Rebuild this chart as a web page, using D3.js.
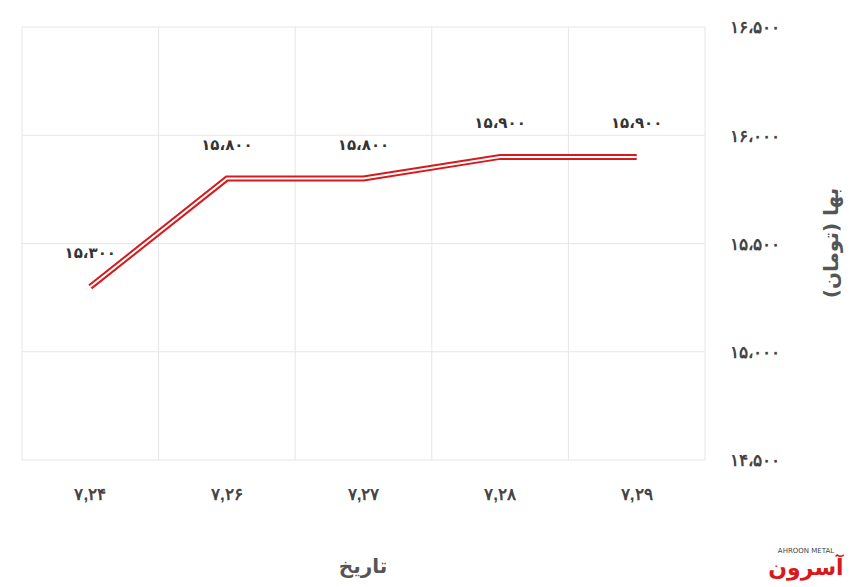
<!DOCTYPE html>
<html>
<head>
<meta charset="utf-8">
<script src="https://cdn.jsdelivr.net/npm/d3@7"></script>
<style>
  body { margin: 0; background: #fff; font-family: "DejaVu Sans", "Noto Sans", sans-serif; }
  .grid line { stroke: #e6e6e6; }
  .axis text { fill: #444; font-size: 17px; font-weight: bold; }
  .axis path, .axis line { display: none; }
</style>
</head>
<body>
<svg id="chart" width="860" height="587"></svg>
<script>
var categories = ["۷,۲۴", "۷,۲۶", "۷,۲۷", "۷,۲۸", "۷,۲۹"];
var prices = [15300, 15800, 15800, 15900, 15900];
var priceLabels = ["۱۵،۳۰۰", "۱۵،۸۰۰", "۱۵،۸۰۰", "۱۵،۹۰۰", "۱۵،۹۰۰"];
var yTicks = [14500, 15000, 15500, 16000, 16500];
var yTickLabels = ["۱۴،۵۰۰", "۱۵،۰۰۰", "۱۵،۵۰۰", "۱۶،۰۰۰", "۱۶،۵۰۰"];

var plotLeft = 22, plotRight = 705, plotTop = 27, plotBottom = 460;
var svg = d3.select("#chart");

var x = d3.scaleBand().domain(categories).range([plotLeft, plotRight]);
var y = d3.scaleLinear().domain([14500, 16500]).range([plotBottom, plotTop]);

// grid
var grid = svg.append("g").attr("class", "grid");
grid.selectAll(".h").data(yTicks).enter().append("line")
  .attr("x1", plotLeft).attr("x2", plotRight)
  .attr("y1", d => y(d)).attr("y2", d => y(d));
grid.selectAll(".v").data(d3.range(categories.length + 1)).enter().append("line")
  .attr("y1", plotTop).attr("y2", plotBottom)
  .attr("x1", i => plotLeft + i * x.bandwidth()).attr("x2", i => plotLeft + i * x.bandwidth());

// axes
svg.append("g").attr("class", "axis")
  .attr("transform", "translate(" + (plotRight + 22) + ",0)")
  .call(d3.axisRight(y).tickValues(yTicks).tickSize(0)
    .tickFormat((d, i) => yTickLabels[i]))
  .selectAll("text").attr("dy", "0.35em");

svg.append("g").attr("class", "axis")
  .attr("transform", "translate(0," + (plotBottom + 22) + ")")
  .call(d3.axisBottom(x).tickSize(0))
  .selectAll("text").attr("dy", "0.9em");

// line (double stroke)
var line = d3.line()
  .x((d, i) => x(categories[i]) + x.bandwidth() / 2)
  .y(d => y(d));
svg.append("path").datum(prices).attr("d", line)
  .attr("fill", "none").attr("stroke", "#d7191c").attr("stroke-width", 6);
svg.append("path").datum(prices).attr("d", line)
  .attr("fill", "none").attr("stroke", "#fff").attr("stroke-width", 2);

// value labels
svg.selectAll(".lbl").data(prices).enter().append("text")
  .attr("x", (d, i) => x(categories[i]) + x.bandwidth() / 2)
  .attr("y", d => y(d) - 29)
  .attr("text-anchor", "middle")
  .attr("font-size", 15).attr("font-weight", "bold").attr("fill", "#333")
  .text((d, i) => priceLabels[i]);

// axis titles
svg.append("text").attr("x", 363).attr("y", 573).attr("text-anchor", "middle")
  .attr("font-size", 20).attr("font-weight", "bold").attr("fill", "#555")
  .text("تاریخ");
svg.append("text").attr("transform", "translate(838,243) rotate(-90)")
  .attr("text-anchor", "middle")
  .attr("font-size", 20).attr("font-weight", "bold").attr("fill", "#555")
  .text("بها (تومان)");

// logo
svg.append("text").attr("x", 806).attr("y", 553).attr("text-anchor", "middle")
  .attr("font-size", 7).attr("fill", "#444").text("AHROON METAL");
svg.append("text").attr("x", 806).attr("y", 575).attr("text-anchor", "middle")
  .attr("font-size", 22).attr("font-weight", "bold").attr("fill", "#d7191c").text("آسرون");
</script>
</body>
</html>
